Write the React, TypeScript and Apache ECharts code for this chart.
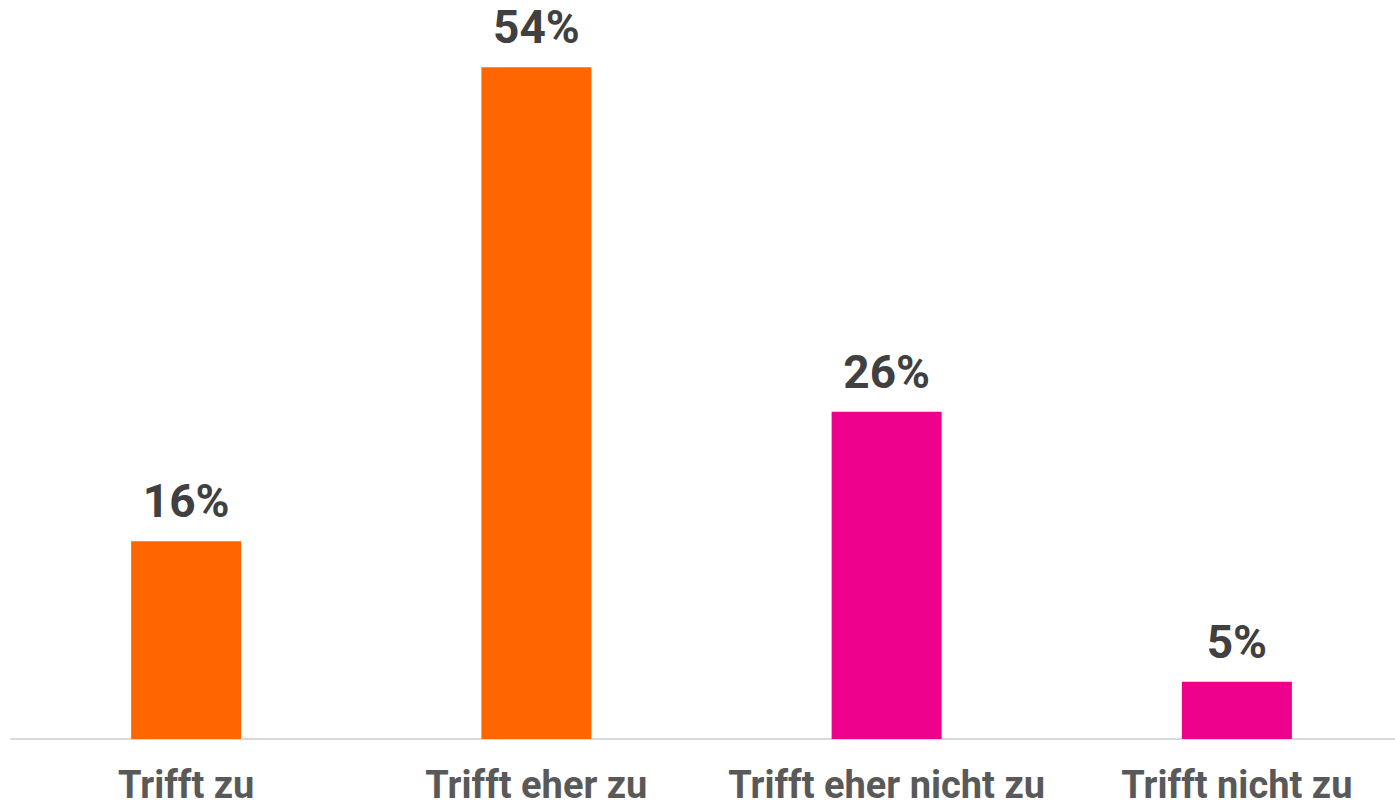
import React, { useEffect, useRef } from "react";
import * as echarts from "echarts";

const categories = ["Trifft zu", "Trifft eher zu", "Trifft eher nicht zu", "Trifft nicht zu"];
const values = [15.9, 54.0, 26.3, 4.6];
const colors = ["#FF6600", "#FF6600", "#EC008C", "#EC008C"];

export default function App() {
  const ref = useRef<HTMLDivElement>(null);
  useEffect(() => {
    if (!ref.current) return;
    const chart = echarts.init(ref.current, null, { renderer: "svg" });
    chart.setOption({
      animation: false,
      backgroundColor: "#ffffff",
      grid: { left: 11, right: 0, top: 0, bottom: 65, containLabel: false },
      xAxis: {
        type: "category",
        data: categories,
        axisLine: { show: true, lineStyle: { color: "#d9d9d9", width: 2 } },
        axisTick: { show: false },
        axisLabel: {
          color: "#595959",
          fontFamily: "Roboto",
          fontWeight: "bold",
          fontSize: 38,
          margin: 27,
          interval: 0,
        },
      },
      yAxis: {
        type: "value",
        min: 0,
        max: 59.4,
        show: false,
        splitLine: { show: false },
      },
      series: [
        {
          type: "bar",
          barWidth: 110,
          data: values.map((v, i) => ({ value: v, itemStyle: { color: colors[i] } })),
          label: {
            show: true,
            position: "top",
            distance: 17,
            formatter: (p: any) => Math.round(p.value) + "%",
            color: "#404040",
            fontFamily: "Roboto",
            fontWeight: "bold",
            fontSize: 46,
          },
        },
      ],
    });
    return () => chart.dispose();
  }, []);
  return (
    <div style={{ position: "fixed", left: 0, top: 0, width: 1395, height: 804, overflow: "hidden", background: "#fff" }}>
      <div ref={ref} style={{ width: 1412, height: 804 }} />
    </div>
  );
}
